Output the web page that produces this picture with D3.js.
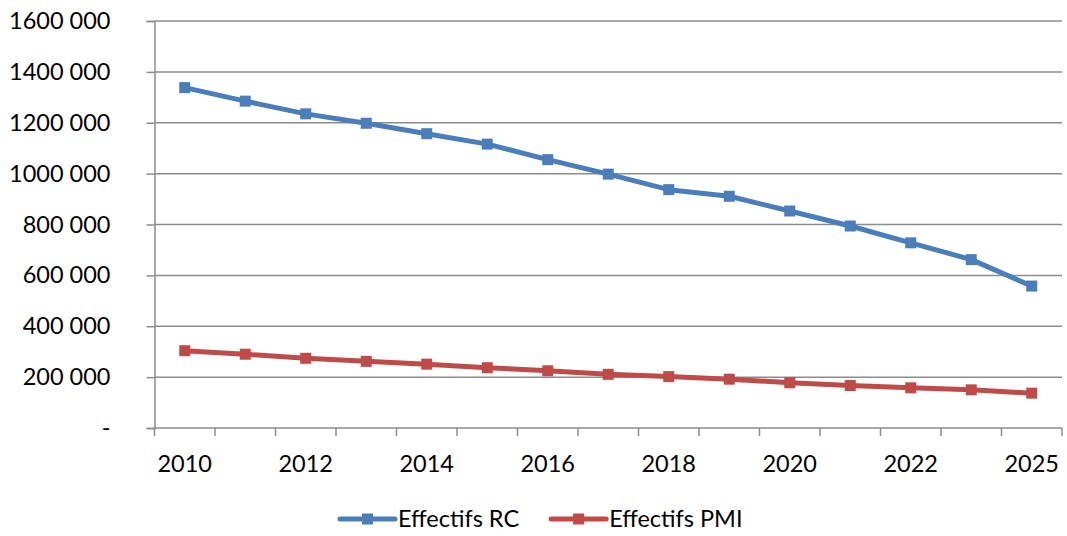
<!DOCTYPE html>
<html lang="fr">
<head>
  <meta charset="UTF-8">
  <title>Effectifs RC et PMI</title>
  <script src="https://d3js.org/d3.v7.min.js"></script>
  <style>
    body { margin: 0; background: #fff; }
    svg text { font-family: Lato, "Open Sans", sans-serif; fill: #000; }
  </style>
</head>
<body>
  <div id="chart"></div>
  <script>
    // catégories (années) et étiquettes affichées
    const years = ["2010","2011","2012","2013","2014","2015","2016","2017","2018","2019","2020","2021","2022","2023","2025"];
    const shownLabels = ["2010","2012","2014","2016","2018","2020","2022","2025"];

    const effectifsRC = [1338000, 1285000, 1235000, 1198000, 1157000, 1116000, 1055000, 998000, 937000, 911000, 853000, 794000, 728000, 662000, 558000];
    const effectifsPMI = [304000, 290000, 274000, 262000, 251000, 237000, 225000, 211000, 202000, 192000, 178000, 167000, 158000, 150000, 137000];

    const yTicks = [0, 200000, 400000, 600000, 800000, 1000000, 1200000, 1400000, 1600000];

    const series = [
      { name: "Effectifs RC", values: effectifsRC, color: "#4A7EBB" },
      { name: "Effectifs PMI", values: effectifsPMI, color: "#BE4B48" }
    ];

    const W = 1067, H = 536;
    const margin = { top: 21, right: 5, bottom: 108, left: 154.5 };
    const width = W - margin.left - margin.right;
    const height = H - margin.top - margin.bottom;
    const fontSize = "23.5px";

    const svg = d3.select("#chart").append("svg")
      .attr("width", W).attr("height", H);
    const g = svg.append("g").attr("transform", `translate(${margin.left},${margin.top})`);

    const x = d3.scaleBand().domain(years).range([0, width]).padding(0);
    const y = d3.scaleLinear().domain([0, 1600000]).range([height, 0]);

    // format "1 200 000" / "-" pour zéro
    const fmt = v => v === 0 ? "-" : d3.format(",")(v).replace(/,/g, " ").replace(/^(\d) (\d{3}) /, "$1$2 ");

    // grille horizontale
    g.append("g").selectAll("line")
      .data(yTicks.filter(d => d > 0))
      .join("line")
      .attr("x1", 0).attr("x2", width)
      .attr("y1", d => y(d)).attr("y2", d => y(d))
      .attr("stroke", "#8c8c8c").attr("stroke-width", 1.5);

    // axe Y
    const yAxis = g.append("g")
      .call(d3.axisLeft(y).tickValues(yTicks).tickFormat(fmt).tickSize(8).tickPadding(36));
    yAxis.select(".domain").attr("stroke", "#8c8c8c").attr("stroke-width", 1.5);
    yAxis.selectAll(".tick line").attr("stroke", "#8c8c8c").attr("stroke-width", 1.5);
    yAxis.selectAll("text").style("font-size", fontSize).attr("fill", "#000");

    // axe X : graduations entre les catégories
    const xg = g.append("g").attr("transform", `translate(0,${height})`);
    xg.append("line").attr("x1", 0).attr("x2", width)
      .attr("stroke", "#8c8c8c").attr("stroke-width", 1.5);
    const bounds = years.map(d => x(d)).concat([width]);
    xg.selectAll("line.tk").data(bounds).join("line").attr("class", "tk")
      .attr("x1", d => d).attr("x2", d => d)
      .attr("y1", 0).attr("y2", 8)
      .attr("stroke", "#8c8c8c").attr("stroke-width", 1.5);
    xg.selectAll("text").data(shownLabels).join("text")
      .attr("x", d => x(d) + x.bandwidth() / 2)
      .attr("y", 44)
      .attr("text-anchor", "middle")
      .style("font-size", fontSize)
      .text(d => d);

    const line = d3.line()
      .x((d, i) => x(years[i]) + x.bandwidth() / 2)
      .y(d => y(d));

    series.forEach(s => {
      g.append("path")
        .datum(s.values)
        .attr("fill", "none")
        .attr("stroke", s.color)
        .attr("stroke-width", 5)
        .attr("stroke-linejoin", "round")
        .attr("d", line);
      g.append("g").selectAll("rect")
        .data(s.values)
        .join("rect")
        .attr("x", (d, i) => x(years[i]) + x.bandwidth() / 2 - 5.5)
        .attr("y", d => y(d) - 5.5)
        .attr("width", 11).attr("height", 11)
        .attr("fill", s.color);
    });

    // légende
    const legend = svg.append("g").attr("transform", "translate(340,519)");
    let lx = 0;
    series.forEach(s => {
      const item = legend.append("g").attr("transform", `translate(${lx},0)`);
      item.append("line").attr("x1", 0).attr("x2", 55).attr("y1", 0).attr("y2", 0)
        .attr("stroke", s.color).attr("stroke-width", 5).attr("stroke-linecap", "round");
      item.append("rect").attr("x", 22).attr("y", -5.5).attr("width", 11).attr("height", 11)
        .attr("fill", s.color);
      const t = item.append("text").attr("x", 58).attr("y", 0).attr("dy", "0.35em")
        .style("font-size", fontSize).text(s.name);
      lx += 58 + t.node().getComputedTextLength() + 32;
    });
  </script>
</body>
</html>
